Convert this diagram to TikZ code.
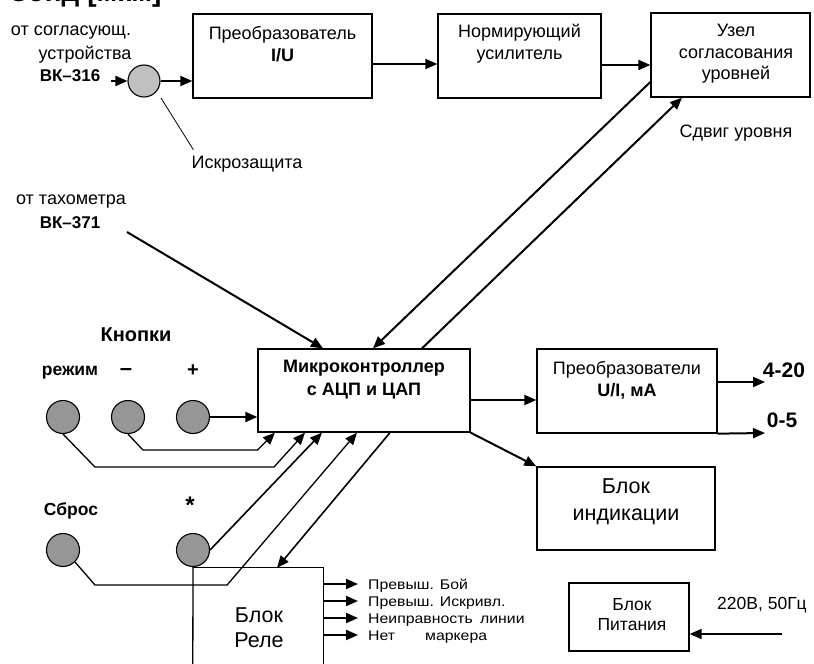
\documentclass[tikz,border=0pt]{standalone}
\usepackage{fontspec}
\setmainfont{Liberation Sans}
\newfontfamily\widefont[FakeStretch=1.13]{Liberation Sans}
\usetikzlibrary{arrows.meta,calc}
\definecolor{btngray}{RGB}{150,150,150}
\definecolor{izgray}{RGB}{192,192,192}
\begin{document}
\begin{tikzpicture}[x=1pt,y=-1pt,
 box/.style={draw, line width=1.3pt, inner sep=0pt},
 lbl/.style={inner sep=0pt, align=center, font=\fontsize{18}{22}\selectfont},
 blbl/.style={inner sep=0pt, align=center, font=\bfseries\fontsize{17}{22}\selectfont},
 conn/.style={line width=2pt, -{Triangle[length=12pt,width=10pt]}},
 thinarr/.style={line width=1.3pt, -{Triangle[length=12pt,width=10pt]}},
 btn/.style={circle, draw, line width=1.1pt, fill=btngray, minimum size=33pt, inner sep=0pt},
 rout/.style={anchor=west, inner sep=0pt, font=\widefont\fontsize{14}{16}\selectfont, text height=10pt, text depth=0pt},
]
\useasboundingbox (0,0) rectangle (814,664);

% cut title
\node[anchor=base west, inner sep=0pt, font=\bfseries\fontsize{28}{32}\selectfont] (title) at (10,1) {Зонд [мкм]};

% top chain
\node[box, minimum width=179pt, minimum height=84pt] (b1) at (282.5,56) {};
\node[lbl] (b1t) at (282.5,44) {Преобразователь\\\textbf{I/U}};
\node[box, minimum width=163pt, minimum height=84pt] (b2) at (519.5,56) {};
\node[lbl] (b2t) at (519.5,44) {Нормирующий\\усилитель};
\node[box, minimum width=159pt, minimum height=84pt] (b3) at (730.5,55) {};
\node[lbl, font=\fontsize{18}{21.5}\selectfont] (b3t) at (736,54) {Узел\\согласования\\уровней};
\node[lbl] (shift) at (736,133) {Сдвиг уровня};

% input VK-316
\node[lbl] (n1) at (71,33) {от согласующ.};
\node[lbl] (n2) at (85,55) {устройства};
\node[blbl] (n3) at (70,76) {ВК–316};
\coordinate (in316) at (111,81);
\node[btn, fill=izgray, minimum size=32pt] (iz) at (144,81) {};
\coordinate (izl) at (161,98);
\node[lbl] (izt) at (247,164) {Искрозащита};

% tachometer
\node[lbl] (t1) at (71,202) {от тахометра};
\node[blbl] (t2) at (70,223) {ВК–371};
\coordinate (tach) at (127,232);

% microcontroller
\node[box, minimum width=212pt, minimum height=83pt] (mc) at (364,390.5) {};
\node[blbl, font=\bfseries\fontsize{18}{23}\selectfont] (mct) at (364,380) {Микроконтроллер\\с АЦП и ЦАП};

% converters
\node[box, minimum width=180pt, minimum height=84pt] (pr) at (627,391) {};
\node[lbl] (prt) at (627,380) {Преобразователи\\\textbf{U/I, мА}};
\node[inner sep=0pt, font=\bfseries\fontsize{21}{24}\selectfont] (l420) at (784,370) {4-20};
\node[inner sep=0pt, font=\bfseries\fontsize{21}{24}\selectfont] (l05) at (782,420) {0-5};
\coordinate (o420) at (765,382);
\coordinate (o05) at (765,433);

% indication
\node[box, minimum width=178pt, minimum height=83pt] (ind) at (626,508.5) {};
\node[lbl, font=\fontsize{21.5}{27}\selectfont] (indt) at (626,502) {Блок\\индикации};

% buttons
\node[inner sep=0pt, font=\bfseries\fontsize{20}{24}\selectfont] (kn) at (136,335) {Кнопки};
\node[blbl, font=\bfseries\fontsize{17.5}{20}\selectfont] (lrz) at (70,373) {режим};
\node[blbl, font=\bfseries\fontsize{22}{24}\selectfont] (lmn) at (126,372) {–};
\node[blbl, font=\bfseries\fontsize{20}{22}\selectfont] (lpl) at (193,371) {+};
\node[btn] (rz) at (63,417) {};
\node[btn] (mn) at (128,417) {};
\node[btn] (pl) at (193,417) {};
\node[blbl, font=\bfseries\fontsize{17.5}{20}\selectfont] (lsb) at (71,511) {Сброс};
\node[blbl, font=\bfseries\fontsize{24}{24}\selectfont] (lst) at (190,505) {*};
\node[btn] (sb) at (63,550) {};
\node[btn] (st) at (193,550) {};

% relay block
\node[minimum width=130pt, minimum height=96pt, inner sep=0pt] (rl) at (258,616) {};
\node[lbl, font=\fontsize{21.5}{25}\selectfont] (rlt) at (259,628) {Блок\\Реле};
\node[rout] (o1) at (368,584) {Превыш. Бой};
\node[rout] (o2) at (368,601) {Превыш. Искривл.};
\node[rout] (o3) at (368,618) {Неиправность\hspace{3pt} линии};
\node[rout] (o4) at (368,635) {Нет\hspace{30pt}маркера};

% power supply
\node[box, minimum width=120pt, minimum height=68pt] (bp) at (629,617) {};
\node[lbl, font=\fontsize{17.5}{20}\selectfont] (bpt) at (632,615) {Блок\\Питания};
\node[lbl, font=\fontsize{17.5}{20}\selectfont] (pwt) at (762,605) {220В, 50Гц};
\coordinate (pw) at (782,634);

% ---- connectors ----
\draw[conn] ([yshift=-8pt]b1.east) -- ([yshift=-8pt]b2.west);
\draw[conn] ([yshift=-9pt]b2.east) -- ([yshift=-10pt]b3.west);
\draw[conn] (in316) -- (iz.west);
\draw[conn] (iz.east) -- (iz.east -| b1.west);
\draw[line width=0.8pt] (izl) -- ([xshift=2pt,yshift=6pt]izt.north west);
\draw[conn] (tach) -- ([xshift=-41pt]mc.north);
\draw[conn] ([yshift=-27pt]b3.west) -- ([xshift=9pt]mc.north);
\draw[conn] ([xshift=58pt]mc.north) -- ([xshift=-48.5pt]b3.south);

\draw[conn] (pl.east) -- (pl.east -| mc.west);
\draw[thinarr] (mn.south) -- ++(15,16) coordinate (m1) -- (m1 -| mc.west) -- ([xshift=-89pt]mc.south);
\draw[thinarr] (rz.south) -- ++(32,33) coordinate (r1) -- ++(179,0) -- ([xshift=-59pt]mc.south);
\draw[thinarr] (sb.south east) -- ++(20,23) coordinate (s1) -- ++(132,0) -- ([xshift=-7pt]mc.south);
\draw[conn, line width=1.6pt] (st.east) -- ([xshift=-42pt]mc.south);
\draw[conn, line width=1.6pt] ([xshift=26pt]mc.south) -- ([xshift=19pt]rl.north);

\draw[line width=1.3pt] (st.south) -- (rl.south west);
\draw[line width=1.3pt] (rl.north west) -- (rl.north east) -- (rl.south east);
\foreach \o in {o1,o2,o3,o4}
  \draw[conn] (\o.west -| rl.east) -- ([xshift=-10pt]\o.west);

\draw[conn] ([yshift=-9.5pt]mc.east) -- ([yshift=-9pt]pr.west);
\draw[conn] (mc.south east) -- (ind.north west);
\draw[conn] (o420 -| pr.east) -- (o420);
\draw[conn] (pr.south east) -- (o05);
\draw[conn] (pw) -- (pw -| bp.east);
\end{tikzpicture}
\end{document}
